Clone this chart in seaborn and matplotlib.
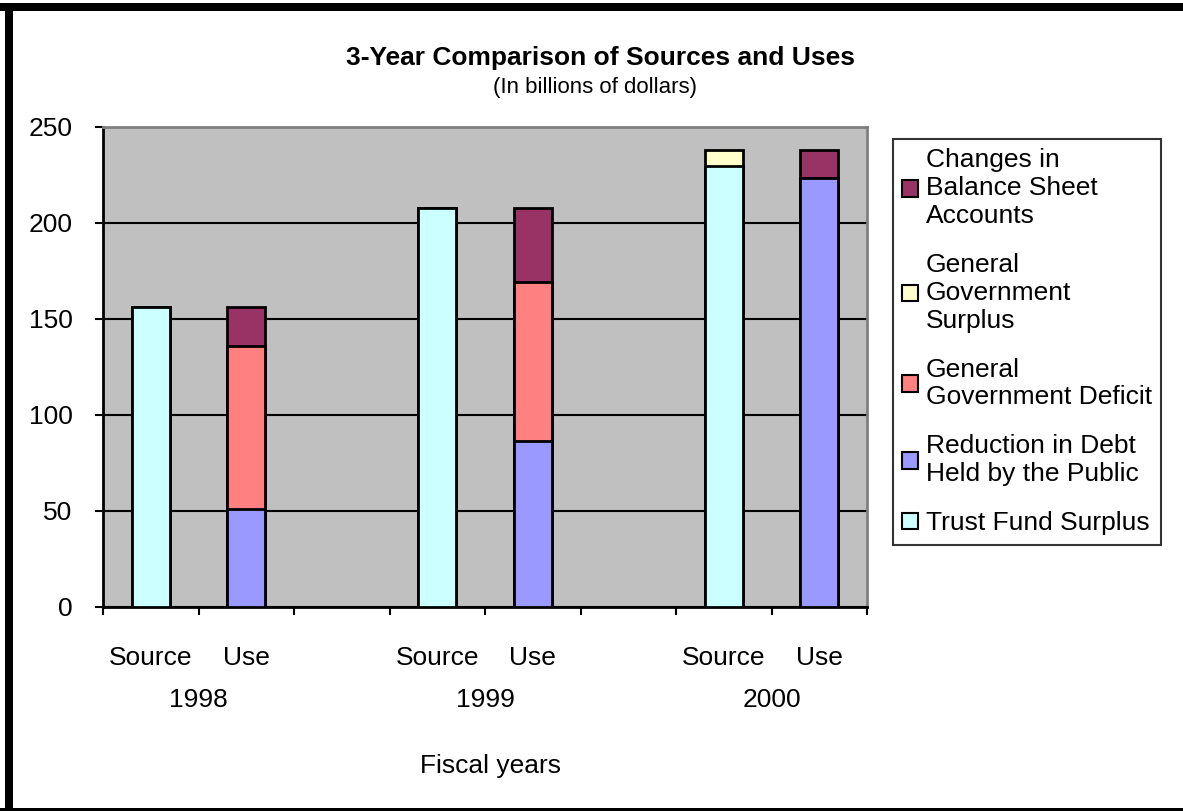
import numpy as np
import pandas as pd
import matplotlib
matplotlib.use("Agg")
import matplotlib.pyplot as plt
from matplotlib.patches import Patch, Rectangle
from matplotlib import transforms
import seaborn as sns

# data (billions of dollars)
years = ["1998", "1999", "2000"]

# source side
trust_fund_surplus = [156.0, 207.6, 229.6]
general_gov_surplus = [0.0, 0.0, 8.4]
# use side
reduction_debt = [51.0, 86.2, 223.4]
general_gov_deficit = [85.0, 83.2, 0.0]
balance_sheet_changes = [20.0, 38.2, 14.6]

series_labels = {
    "changes": "Changes in\nBalance Sheet\nAccounts",
    "surplus": "General\nGovernment\nSurplus",
    "deficit": "General\nGovernment Deficit",
    "reduction": "Reduction in Debt\nHeld by the Public",
    "trust": "Trust Fund Surplus",
}
colors = {
    "changes": "#993366",
    "surplus": "#FFFFCC",
    "deficit": "#FF8080",
    "reduction": "#9999FF",
    "trust": "#CCFFFF",
}

# slots on the category axis: Source, Use, (gap) per year
order = []
for i, y in enumerate(years):
    order += [y + " Source", y + " Use"]
    if i < len(years) - 1:
        order.append(y + " gap")

rows = []
for i, y in enumerate(years):
    t = trust_fund_surplus[i]
    s = general_gov_surplus[i]
    r = reduction_debt[i]
    d = general_gov_deficit[i]
    c = balance_sheet_changes[i]
    rows.append((y + " Source", "trust", t))
    rows.append((y + " Source", "surplus", t + s))
    rows.append((y + " Use", "reduction", r))
    rows.append((y + " Use", "deficit", r + d))
    rows.append((y + " Use", "changes", r + d + c))
df = pd.DataFrame(rows, columns=["slot", "series", "top"])

sns.set_style("white")
plt.rcParams["font.family"] = ["Liberation Sans", "DejaVu Sans"]
plt.rcParams["text.color"] = "black"
plt.rcParams["xtick.color"] = "black"
plt.rcParams["ytick.color"] = "black"
plt.rcParams["xtick.labelcolor"] = "black"
plt.rcParams["ytick.labelcolor"] = "black"

fig = plt.figure(figsize=(11.83, 8.11), dpi=100)
ax = fig.add_axes([103 / 1183, 1 - 607 / 811, 764 / 1183, 480 / 811])
ax.set_facecolor("#C0C0C0")

# stacked look: draw tallest cumulative layer first
for key in ["changes", "deficit", "reduction", "surplus", "trust"]:
    sub = df[df["series"] == key]
    sns.barplot(data=sub, x="slot", y="top", order=order, color=colors[key],
                saturation=1, edgecolor="black", linewidth=2, width=0.4,
                errorbar=None, ax=ax, zorder=3)

ax.set_ylim(0, 250)
ax.set_xlim(-0.5, len(order) - 0.5)
ax.set_yticks(np.arange(0, 251, 50))
ax.yaxis.grid(True, color="black", linewidth=1.5, zorder=1)
ax.set_axisbelow(True)

tick_labels = [s.split(" ")[1] if "gap" not in s else "" for s in order]
ax.set_xticks(range(len(order)))
ax.set_xticklabels(tick_labels, fontsize=19)
ax.set_xticks(np.arange(-0.5, len(order), 1), minor=True)
ax.tick_params(axis="x", which="major", bottom=True, length=0, pad=28,
               labelcolor="black")
ax.tick_params(axis="x", which="minor", bottom=True, length=6, width=1.5,
               direction="out", color="black")
ax.tick_params(axis="y", left=True, length=6, width=1.5, direction="out",
               pad=16, labelsize=19, color="black", labelcolor="black")
ax.set_xlabel("")
ax.set_ylabel("")

for side in ["left", "bottom"]:
    ax.spines[side].set_color("black")
    ax.spines[side].set_linewidth(2)
for side in ["top", "right"]:
    ax.spines[side].set_color("#808080")
    ax.spines[side].set_linewidth(2)

# year labels under each Source/Use pair
blend = transforms.blended_transform_factory(ax.transData, ax.transAxes)
for i, y in enumerate(years):
    ax.text(3 * i + 0.5, -0.194, y, transform=blend, ha="center", va="center",
            fontsize=19, color="black")

fig.text(491 / 1183, 1 - 766 / 811, "Fiscal years", ha="center", va="center",
         fontsize=19, color="black")
fig.text(600 / 1183, 1 - 58 / 811, "3-Year Comparison of Sources and Uses",
         ha="center", va="center", fontsize=19, fontweight="bold", color="black")
fig.text(595 / 1183, 1 - 88 / 811, "(In billions of dollars)",
         ha="center", va="center", fontsize=16, color="black")

handles = [Patch(facecolor=colors[k], edgecolor="black", linewidth=1.5)
           for k in series_labels]
leg = fig.legend(handles, list(series_labels.values()), loc="upper left",
                 bbox_to_anchor=(893 / 1183, 1 - 139 / 811),
                 bbox_transform=fig.transFigure, fontsize=19, frameon=True,
                 fancybox=False, borderaxespad=0, handlelength=0.6,
                 handleheight=0.6, handletextpad=0.3, labelspacing=0.95,
                 borderpad=0.35)
for t in leg.get_texts():
    t.set_color("black")
leg.get_frame().set_edgecolor("black")
leg.get_frame().set_linewidth(1.5)

# outer chart frame
fig.add_artist(Rectangle((0, 1 - 11 / 811), 1, 8 / 811, transform=fig.transFigure,
                         color="black", lw=0))
fig.add_artist(Rectangle((5 / 1183, 0), 8 / 1183, 1 - 3 / 811,
                         transform=fig.transFigure, color="black", lw=0))
fig.add_artist(Rectangle((0, 0), 1, 3 / 811, transform=fig.transFigure,
                         color="black", lw=0))

fig.savefig("out.png", dpi=100)
